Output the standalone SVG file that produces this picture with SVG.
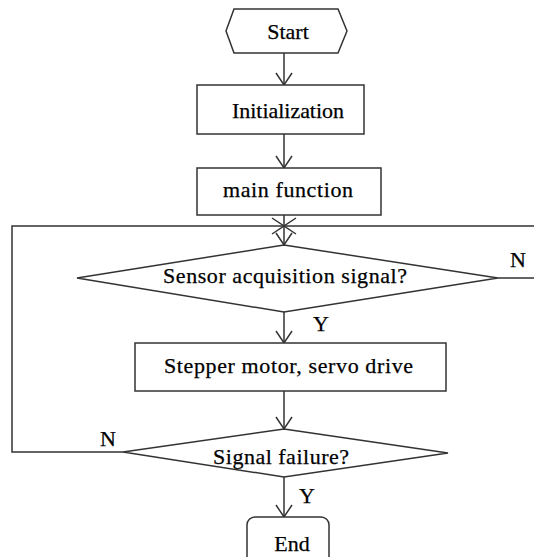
<svg xmlns="http://www.w3.org/2000/svg" width="534" height="557" viewBox="0 0 534 557" xml:space="preserve">
<style>
.shape{fill:#fff;stroke:#333;stroke-width:1.5}
.ln{fill:none;stroke:#333;stroke-width:1.5}
.t{font-family:"Liberation Serif","Times New Roman",serif;font-size:22px;fill:#000;stroke:#000;stroke-width:0.25;text-anchor:middle}
</style>
<defs>
<marker id="arr" markerUnits="userSpaceOnUse" viewBox="-1 -1 14 18" refX="12" refY="8" markerWidth="14" markerHeight="18" orient="auto" overflow="visible">
<path d="M0,0 L12,8 L0,16" fill="none" stroke="#333" stroke-width="1.5"/>
</marker>
</defs>
<rect width="534" height="557" fill="#fff"/>
<g id="connectors">
<line class="ln" x1="284" y1="53" x2="284" y2="85" marker-end="url(#arr)"/>
<line class="ln" x1="284" y1="134" x2="284" y2="168" marker-end="url(#arr)"/>
<line class="ln" x1="284" y1="215" x2="284" y2="245" marker-end="url(#arr)"/>
<path class="ln" d="M123,452 H12 V226 H284" marker-end="url(#arr)"/>
<path class="ln" d="M498,278 H545 V226 H284" marker-end="url(#arr)"/>
<line class="ln" x1="284" y1="312" x2="284" y2="343" marker-end="url(#arr)"/>
<line class="ln" x1="284" y1="391" x2="284" y2="429" marker-end="url(#arr)"/>
<line class="ln" x1="284" y1="477" x2="284" y2="517" marker-end="url(#arr)"/>
<text class="t" x="518" y="267">N</text>
<text class="t" x="321" y="331">Y</text>
<text class="t" x="108" y="446">N</text>
<text class="t" x="307" y="503">Y</text>
</g>
<g id="start">
<polygon class="shape" points="226,31 234,9 338,9 347,31 338,53 234,53"/>
<text class="t" x="288" y="39">Start</text>
</g>
<g id="init">
<rect class="shape" x="197" y="85" width="167" height="49"/>
<text class="t" x="288" y="118" textLength="112">Initialization</text>
</g>
<g id="main">
<rect class="shape" x="197" y="168" width="184" height="47"/>
<text class="t" x="288" y="197" textLength="130">main  function</text>
</g>
<g id="sensor">
<polygon class="shape" points="284,245 498,278 284,312 77,278"/>
<text class="t" x="285" y="283" textLength="244">Sensor acquisition  signal?</text>
</g>
<g id="drive">
<rect class="shape" x="135" y="343" width="311" height="48"/>
<text class="t" x="288.5" y="373" textLength="249">Stepper motor,  servo drive</text>
</g>
<g id="failure">
<polygon class="shape" points="284,429 448,453 284,477 123,452"/>
<text class="t" x="281" y="464" textLength="136">Signal  failure?</text>
</g>
<g id="end">
<rect class="shape" x="247" y="517" width="82" height="60" rx="8"/>
<text class="t" x="292" y="551">End</text>
</g>
</svg>
